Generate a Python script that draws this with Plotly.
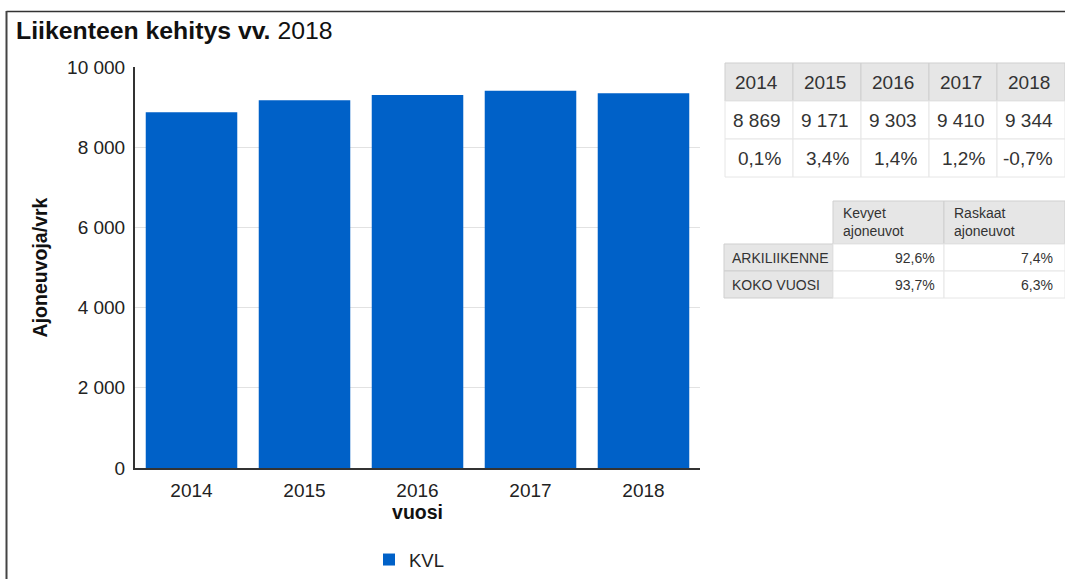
import plotly.graph_objects as go

# ---------------- data ----------------
years = ["2014", "2015", "2016", "2017", "2018"]
kvl = [8869, 9171, 9303, 9410, 9344]
kvl_text = ["8 869", "9 171", "9 303", "9 410", "9 344"]
change_pct = ["0,1%", "3,4%", "1,4%", "1,2%", "-0,7%"]

share_cols = ["Kevyet<br>ajoneuvot", "Raskaat<br>ajoneuvot"]
share_rows = ["ARKILIIKENNE", "KOKO VUOSI"]
light_share = ["92,6%", "93,7%"]
heavy_share = ["7,4%", "6,3%"]

series_name = "KVL"
y_ticks = [0, 2000, 4000, 6000, 8000, 10000]
y_ticktext = ["0", "2 000", "4 000", "6 000", "8 000", "10 000"]

# ---------------- geometry ----------------
W, H = 1065, 579
L, R, T, B = 135, 365, 67, 111
PW, PH = W - L - R, H - T - B


def X(px):
    return (px - L) / PW


def Y(py):
    return (H - B - py) / PH


FONT = "Liberation Sans, Arial, sans-serif"
TXT = "#333333"
BAR = "#0061C8"

fig = go.Figure()
fig.add_trace(go.Bar(x=years, y=kvl, name=series_name, marker=dict(color=BAR, line=dict(width=0)),
                     showlegend=True))

shapes = []
annotations = []

# frame
shapes.append(dict(type="line", xref="paper", yref="paper", x0=X(6.5), x1=X(1066), y0=Y(11.5), y1=Y(11.5),
                   line=dict(color="#333333", width=1.5)))
shapes.append(dict(type="line", xref="paper", yref="paper", x0=X(6.5), x1=X(6.5), y0=Y(11), y1=Y(580),
                   line=dict(color="#444444", width=2)))

# title
annotations.append(dict(text="<b>Liikenteen kehitys vv.</b> 2018", xref="paper", yref="paper",
                        x=X(14), y=Y(30), xanchor="left", yanchor="middle", showarrow=False,
                        font=dict(family=FONT, size=24.8, color="#111111")))

# ---------- table 1 ----------
t1_cols = [725, 793, 861, 929, 997, 1065]
t1_rows = [63, 101, 139, 177]
HDR = "#e6e6e6"
for i in range(len(years)):
    shapes.append(dict(type="rect", xref="paper", yref="paper", x0=X(t1_cols[i]), x1=X(t1_cols[i + 1]),
                       y0=Y(t1_rows[0]), y1=Y(t1_rows[1]), fillcolor=HDR, line=dict(color="#cfcfcf", width=1),
                       layer="below"))
for r in range(1, 3):
    for i in range(len(years)):
        shapes.append(dict(type="rect", xref="paper", yref="paper", x0=X(t1_cols[i]), x1=X(t1_cols[i + 1]),
                           y0=Y(t1_rows[r]), y1=Y(t1_rows[r + 1]), fillcolor="white",
                           line=dict(color="#e6e6e6", width=1), layer="below"))
for i, (yr, v, p) in enumerate(zip(years, kvl_text, change_pct)):
    xr = t1_cols[i + 1]
    annotations.append(dict(text=yr, xref="paper", yref="paper", x=X(xr - 13), y=Y(83),
                            xanchor="right", yanchor="middle", showarrow=False,
                            font=dict(family=FONT, size=19, color=TXT)))
    annotations.append(dict(text=v, xref="paper", yref="paper", x=X(xr - 10), y=Y(120),
                            xanchor="right", yanchor="middle", showarrow=False,
                            font=dict(family=FONT, size=19, color=TXT)))
    annotations.append(dict(text=p, xref="paper", yref="paper", x=X(xr - 10), y=Y(158),
                            xanchor="right", yanchor="middle", showarrow=False,
                            font=dict(family=FONT, size=19, color=TXT)))

# ---------- table 2 ----------
t2_cols = [724, 833, 944, 1065]
t2_rows = [201, 244, 271, 298]
for j in range(2):
    shapes.append(dict(type="rect", xref="paper", yref="paper", x0=X(t2_cols[j + 1]), x1=X(t2_cols[j + 2]),
                       y0=Y(t2_rows[0]), y1=Y(t2_rows[1]), fillcolor=HDR, line=dict(color="#cfcfcf", width=1),
                       layer="below"))
    annotations.append(dict(text=share_cols[j], xref="paper", yref="paper", x=X(t2_cols[j + 1] + 8),
                            y=Y(222), xanchor="left", yanchor="middle", showarrow=False, align="left",
                            font=dict(family=FONT, size=14, color=TXT)))
for r in range(2):
    shapes.append(dict(type="rect", xref="paper", yref="paper", x0=X(t2_cols[0]), x1=X(t2_cols[1]),
                       y0=Y(t2_rows[r + 1]), y1=Y(t2_rows[r + 2]), fillcolor=HDR,
                       line=dict(color="#cfcfcf", width=1), layer="below"))
    for j in range(2):
        shapes.append(dict(type="rect", xref="paper", yref="paper", x0=X(t2_cols[j + 1]), x1=X(t2_cols[j + 2]),
                           y0=Y(t2_rows[r + 1]), y1=Y(t2_rows[r + 2]), fillcolor="white",
                           line=dict(color="#e6e6e6", width=1), layer="below"))
    yc = Y((t2_rows[r + 1] + t2_rows[r + 2]) / 2)
    annotations.append(dict(text=share_rows[r], xref="paper", yref="paper", x=X(t2_cols[0] + 6), y=yc,
                            xanchor="left", yanchor="middle", showarrow=False,
                            font=dict(family=FONT, size=14, color=TXT)))
    annotations.append(dict(text=light_share[r], xref="paper", yref="paper", x=X(t2_cols[2] - 7), y=yc,
                            xanchor="right", yanchor="middle", showarrow=False,
                            font=dict(family=FONT, size=14, color=TXT)))
    annotations.append(dict(text=heavy_share[r], xref="paper", yref="paper", x=X(t2_cols[3] - 10), y=yc,
                            xanchor="right", yanchor="middle", showarrow=False,
                            font=dict(family=FONT, size=14, color=TXT)))

fig.update_layout(
    width=W, height=H,
    margin=dict(l=L, r=R, t=T, b=B, pad=0, autoexpand=False),
    paper_bgcolor="white", plot_bgcolor="white",
    bargap=0.19,
    font=dict(family=FONT, size=19, color="#222222"),
    shapes=shapes,
    annotations=annotations,
    showlegend=True,
    legend=dict(orientation="h", x=X(409), xanchor="center", y=Y(560), yanchor="middle",
                font=dict(family=FONT, size=18.5, color="#222222"), bgcolor="rgba(0,0,0,0)"),
    xaxis=dict(showline=True, linecolor="#333333", linewidth=2, showgrid=False, ticks="",
               tickfont=dict(size=19, color="#222222"), ticklabelstandoff=4, automargin=False,
               title=dict(text="<b>vuosi</b>", font=dict(size=19.5, color="#111111"), standoff=1)),
    yaxis=dict(range=[0, 10000], tickvals=y_ticks, ticktext=y_ticktext, showline=True,
               linecolor="#333333", linewidth=2, gridcolor="#e2e2e2", gridwidth=1, zeroline=False,
               ticks="", tickfont=dict(size=19, color="#222222"), ticklabelstandoff=4, automargin=False,
               title=dict(text="<b>Ajoneuvoja/vrk</b>", font=dict(size=19.5, color="#111111"), standoff=14)),
)

fig.write_html("out.html")
